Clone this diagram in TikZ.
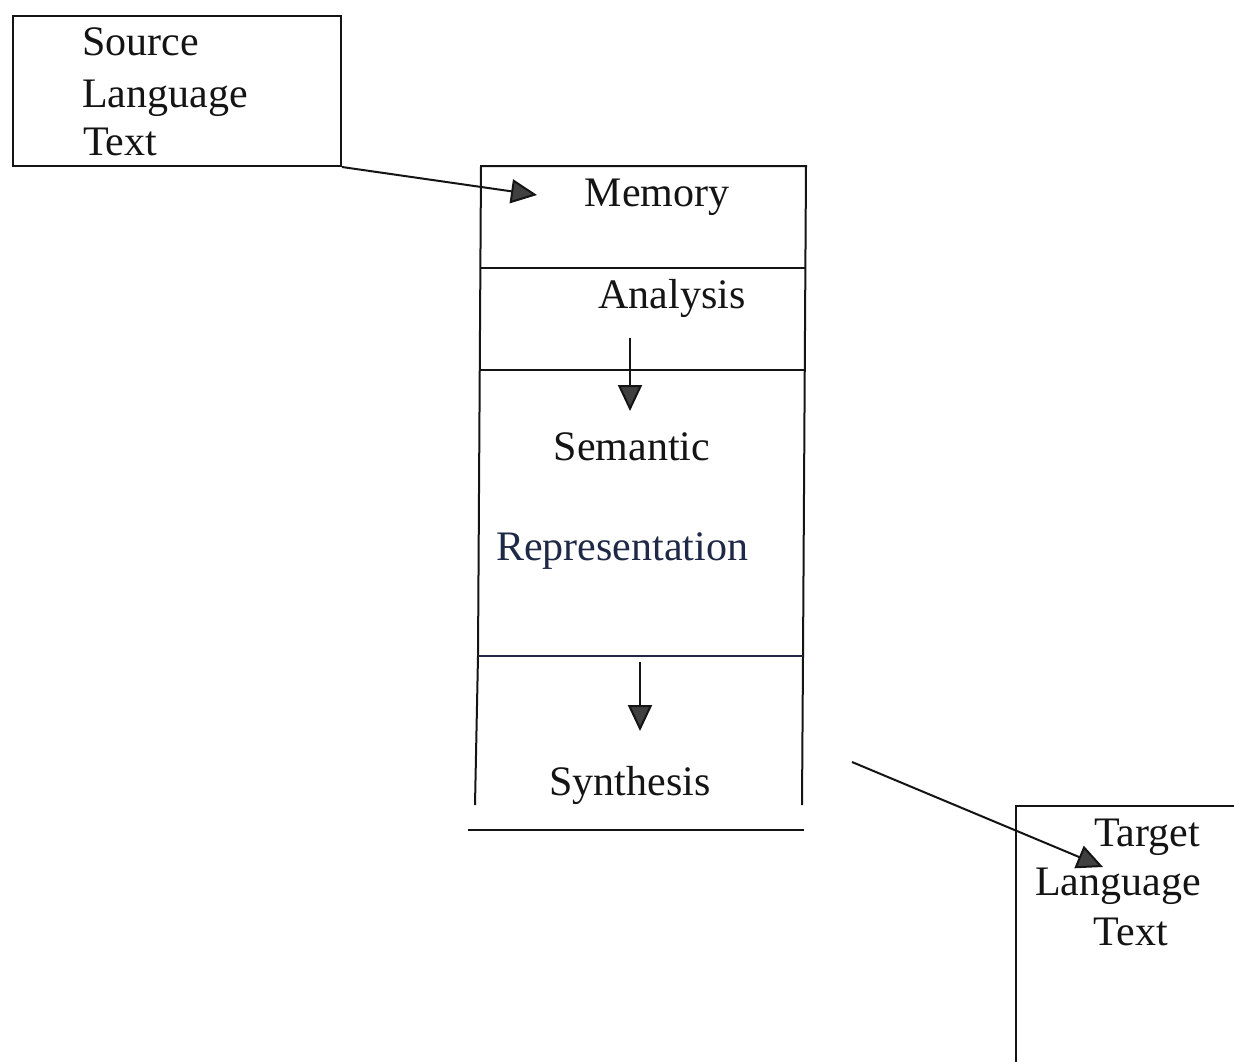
\documentclass[tikz,border=0pt]{standalone}
\usepackage{fontspec}
\setmainfont{Liberation Serif}
\usetikzlibrary{arrows.meta}
\definecolor{inkc}{gray}{0.08}
\definecolor{tipc}{gray}{0.25}
\definecolor{navy}{rgb}{0.12,0.16,0.28}
\tikzset{
  lbl/.style={inner sep=0pt, font=\fontsize{42}{50}\selectfont, text=inkc},
  frame/.style={draw=inkc, line width=2pt},
  conn/.style={draw=inkc, line width=2pt, -{Triangle[length=26pt,width=24pt,fill=tipc]}},
}
\begin{document}
\begin{tikzpicture}[x=1pt,y=-1pt]
\clip (0,0) rectangle (1234,1061);
\fill[white] (0,0) rectangle (1234,1061);
% source box
\node[frame, rectangle, minimum width=328pt, minimum height=150pt, anchor=north west, inner sep=0pt] (src) at (12,15) {};
\node[lbl, anchor=base west] (s1) at (82,55) {Source};
\node[lbl, anchor=base west] (s2) at (82,107) {Language};
\node[lbl, anchor=base west] (s3) at (83,155) {Text};
% central column
\draw[frame] (478,656) -- (481,166) -- (806,166) -- (803,656);
\draw[frame] (475,805) -- (478,656);
\draw[frame] (802,805) -- (803,656);
\draw[frame] (481,268) -- (806,268);
\draw[frame] (480,370) -- (805,370);
\draw[draw=navy, line width=2pt] (478,656) -- (803,656);
\draw[frame] (468,830) -- (804,830);
\node[lbl, anchor=base] (mem) at (657,206) {Memory};
\node[lbl, anchor=base] (ana) at (672,308) {Analysis};
\node[lbl, anchor=base] (sem) at (632,460) {Semantic};
\node[lbl, anchor=base, text=navy] (rep) at (622,560) {Representation};
\node[lbl, anchor=base] (syn) at (630,795) {Synthesis};
% target box
\draw[frame] (1016,1070) -- (1016,806) -- (1240,806);
\node[lbl, anchor=base] (t1) at (1147,846) {Target};
\node[lbl, anchor=base] (t2) at (1118,895) {Language};
\node[lbl, anchor=base] (t3) at (1131,945) {Text};
% connectors
\coordinate (memin) at (537,195);
\coordinate (anaout) at (630,338);
\coordinate (semin) at (630,411);
\coordinate (synout) at (640,662);
\coordinate (synin) at (640,731);
\coordinate (synex) at (852,762);
\coordinate (tgtin) at (1103,867);
\draw[conn] (src.south east) -- (memin);
\draw[conn] (anaout) -- (semin);
\draw[conn] (synout) -- (synin);
\draw[conn] (synex) -- (tgtin);
\end{tikzpicture}
\end{document}
